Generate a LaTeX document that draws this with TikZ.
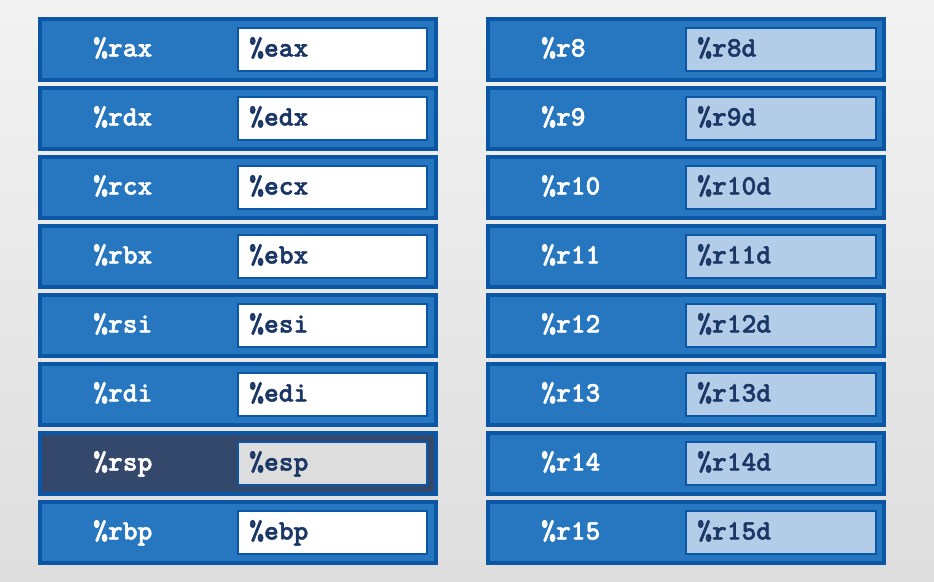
\documentclass[tikz,border=0pt]{standalone}
\usepackage{fontspec}
\usepackage{tikz}

\newfontfamily\regfont{lmmonolt10-bold}[Extension=.otf,FakeBold=1.6]

\definecolor{regblue}{HTML}{2676C0}
\definecolor{regedge}{HTML}{0B57A6}
\definecolor{subblue}{HTML}{B3CDE8}
\definecolor{subtext}{HTML}{1B3766}
\definecolor{spdark}{HTML}{34486B}
\definecolor{spgrey}{HTML}{DDDDDD}

\tikzset{
  outerbox/.style={draw=regedge,line width=2.2pt,fill=regblue},
  innerbox/.style={draw=regedge,line width=2.1pt,fill=white},
  regname/.style={anchor=base west,inner sep=0pt,text=white,font=\fontsize{20}{22}\selectfont\regfont},
  subname/.style={regname,text=subtext}
}

\begin{document}
\begin{tikzpicture}[x=0.025cm,y=-0.025cm]
    % background
    \shade[top color=black!5,bottom color=black!13] (0,0) rectangle (934,581);

    % 64-bit registers with their 32-bit halves (left column)
    \draw[outerbox] (40,19) rectangle (436,80);
    \draw[innerbox] (238,28) rectangle (427,71);
    \node[regname] (rax) at (93,56.5) {\%rax};
    \node[subname] (eax) at (249,56.5) {\%eax};

    \draw[outerbox] (40,88) rectangle (436,149);
    \draw[innerbox] (238,97) rectangle (427,140);
    \node[regname] (rdx) at (93,125.5) {\%rdx};
    \node[subname] (edx) at (249,125.5) {\%edx};

    \draw[outerbox] (40,157) rectangle (436,218);
    \draw[innerbox] (238,166) rectangle (427,209);
    \node[regname] (rcx) at (93,194.5) {\%rcx};
    \node[subname] (ecx) at (249,194.5) {\%ecx};

    \draw[outerbox] (40,226) rectangle (436,287);
    \draw[innerbox] (238,235) rectangle (427,278);
    \node[regname] (rbx) at (93,263.5) {\%rbx};
    \node[subname] (ebx) at (249,263.5) {\%ebx};

    \draw[outerbox] (40,295) rectangle (436,356);
    \draw[innerbox] (238,304) rectangle (427,347);
    \node[regname] (rsi) at (93,332.5) {\%rsi};
    \node[subname] (esi) at (249,332.5) {\%esi};

    \draw[outerbox] (40,364) rectangle (436,425);
    \draw[innerbox] (238,373) rectangle (427,416);
    \node[regname] (rdi) at (93,401.5) {\%rdi};
    \node[subname] (edi) at (249,401.5) {\%edi};

    % stack pointer (highlighted)
    \draw[outerbox,fill=spdark] (40,433) rectangle (436,494);
    \draw[innerbox,fill=spgrey] (238,442) rectangle (427,485);
    \node[regname] (rsp) at (93,470.5) {\%rsp};
    \node[subname] (esp) at (249,470.5) {\%esp};

    \draw[outerbox] (40,502) rectangle (436,563);
    \draw[innerbox] (238,511) rectangle (427,554);
    \node[regname] (rbp) at (93,539.5) {\%rbp};
    \node[subname] (ebp) at (249,539.5) {\%ebp};

    % extra registers r8--r15 (right column)
    \draw[outerbox] (488,19) rectangle (884,80);
    \draw[innerbox,fill=subblue] (686,28) rectangle (876,71);
    \node[regname] (r8) at (541,56.5) {\%r8};
    \node[subname] (r8d) at (697,56.5) {\%r8d};

    \draw[outerbox] (488,88) rectangle (884,149);
    \draw[innerbox,fill=subblue] (686,97) rectangle (876,140);
    \node[regname] (r9) at (541,125.5) {\%r9};
    \node[subname] (r9d) at (697,125.5) {\%r9d};

    \draw[outerbox] (488,157) rectangle (884,218);
    \draw[innerbox,fill=subblue] (686,166) rectangle (876,209);
    \node[regname] (r10) at (541,194.5) {\%r10};
    \node[subname] (r10d) at (697,194.5) {\%r10d};

    \draw[outerbox] (488,226) rectangle (884,287);
    \draw[innerbox,fill=subblue] (686,235) rectangle (876,278);
    \node[regname] (r11) at (541,263.5) {\%r11};
    \node[subname] (r11d) at (697,263.5) {\%r11d};

    \draw[outerbox] (488,295) rectangle (884,356);
    \draw[innerbox,fill=subblue] (686,304) rectangle (876,347);
    \node[regname] (r12) at (541,332.5) {\%r12};
    \node[subname] (r12d) at (697,332.5) {\%r12d};

    \draw[outerbox] (488,364) rectangle (884,425);
    \draw[innerbox,fill=subblue] (686,373) rectangle (876,416);
    \node[regname] (r13) at (541,401.5) {\%r13};
    \node[subname] (r13d) at (697,401.5) {\%r13d};

    \draw[outerbox] (488,433) rectangle (884,494);
    \draw[innerbox,fill=subblue] (686,442) rectangle (876,485);
    \node[regname] (r14) at (541,470.5) {\%r14};
    \node[subname] (r14d) at (697,470.5) {\%r14d};

    \draw[outerbox] (488,502) rectangle (884,563);
    \draw[innerbox,fill=subblue] (686,511) rectangle (876,554);
    \node[regname] (r15) at (541,539.5) {\%r15};
    \node[subname] (r15d) at (697,539.5) {\%r15d};
\end{tikzpicture}
\end{document}
